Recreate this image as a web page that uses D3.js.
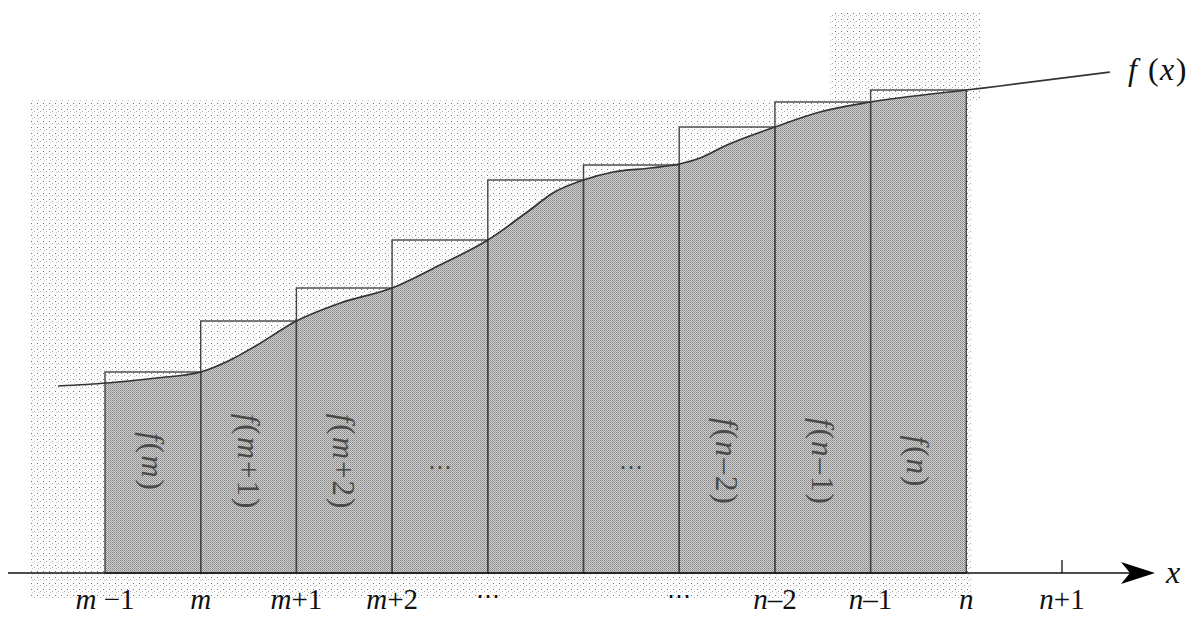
<!DOCTYPE html>
<html>
<head>
<meta charset="utf-8">
<script src="https://cdn.jsdelivr.net/npm/d3@7/dist/d3.min.js"></script>
<style>
  html, body { margin: 0; padding: 0; background: #fff; }
  svg { display: block; }
</style>
</head>
<body>
<svg id="chart" width="1191" height="620"></svg>
<script>
// ---- data (x in step units: 0 = m-1, 1 = m, ..., 9 = n, 10 = n+1) ----
const curveX = [-0.49, 0.02, 0.54, 1, 1.31, 1.59, 2, 2.46, 3, 3.5, 4, 4.44, 4.68, 5, 5.31, 5.7, 6, 6.22, 6.5, 7, 7.47, 8, 9, 9.35, 10.5];
const curveY = [187, 190, 195, 201, 213, 228, 252, 270, 285, 308, 333, 363, 380, 393, 401, 405, 409, 415, 428, 446, 461, 471, 483, 487, 501];
const rectStart = [0, 1, 2, 3, 4, 5, 6, 7, 8];
const rectValues = [201, 252, 285, 333, 393, 408, 446, 471, 483];
const rectLabels = [["f", "(m)"], ["f", "(m+1)"], ["f", "(m+2)"], null, null, null, ["f", "(n–2)"], ["f", "(n–1)"], ["f", "(n)"]];
const dotLabels = [3, 5];
const tickPos = [0, 1, 2, 3, 4, 6, 7, 8, 9, 10];
const tickLabels = ["m −1", "m", "m+1", "m+2", "⋯", "⋯", "n–2", "n–1", "n", "n+1"];

const SERIF = '"Liberation Serif"';
const DOTS = '"DejaVu Serif"';

const svg = d3.select("#chart");
const x = d3.scaleLinear().domain([0, 10]).range([105, 1062]);
const y = d3.scaleLinear().domain([0, 500]).range([573, 73]);

const defs = svg.append("defs");
const pat = defs.append("pattern").attr("id", "stip").attr("patternUnits", "userSpaceOnUse")
  .attr("width", 6).attr("height", 6);
pat.append("rect").attr("width", 6).attr("height", 6).attr("fill", "#fcfcfc");
pat.append("rect").attr("x", 1).attr("y", 1).attr("width", 1).attr("height", 1).attr("fill", "#777");
pat.append("rect").attr("x", 4).attr("y", 3).attr("width", 1).attr("height", 1).attr("fill", "#b0b0b0");
pat.append("rect").attr("x", 2).attr("y", 4).attr("width", 1).attr("height", 1).attr("fill", "#c8c8c8");

const pat2 = defs.append("pattern").attr("id", "dark").attr("patternUnits", "userSpaceOnUse")
  .attr("width", 2).attr("height", 2);
pat2.append("rect").attr("width", 2).attr("height", 2).attr("fill", "#d0d0d0");
pat2.append("rect").attr("width", 1).attr("height", 1).attr("fill", "#868686");
pat2.append("rect").attr("x", 1).attr("y", 1).attr("width", 1).attr("height", 1).attr("fill", "#9c9c9c");

defs.append("clipPath").attr("id", "clipRange").append("rect")
  .attr("x", x(0)).attr("y", 0).attr("width", x(9) - x(0)).attr("height", y(0));

// scanned light background areas
svg.append("rect").attr("x", 30).attr("y", 100).attr("width", 942).attr("height", 498).attr("fill", "url(#stip)");
svg.append("rect").attr("x", 830).attr("y", 13).attr("width", 150).attr("height", 87).attr("fill", "url(#stip)");

const pts = curveX.map((d, i) => [d, curveY[i]]);

// area under curve
const area = d3.area().x(d => x(d[0])).y0(y(0)).y1(d => y(d[1])).curve(d3.curveMonotoneX);
svg.append("path").datum(pts).attr("d", area).attr("fill", "url(#dark)").attr("clip-path", "url(#clipRange)");

// rectangles
svg.selectAll("rect.bar").data(rectStart).join("rect").attr("class", "bar")
  .attr("x", d => x(d)).attr("width", d => x(d + 1) - x(d))
  .attr("y", (d, i) => y(rectValues[i])).attr("height", (d, i) => y(0) - y(rectValues[i]))
  .attr("fill", "none").attr("stroke", "#444").attr("stroke-width", 1.4);

// curve
const line = d3.line().x(d => x(d[0])).y(d => y(d[1])).curve(d3.curveMonotoneX);
svg.append("path").datum(pts).attr("d", line).attr("fill", "none").attr("stroke", "#333").attr("stroke-width", 1.7);

// rotated labels inside bars
rectLabels.forEach((lab, i) => {
  if (!lab) return;
  const cx = (x(rectStart[i]) + x(rectStart[i] + 1)) / 2;
  const t = svg.append("text")
    .attr("transform", `translate(${cx},462) rotate(90)`)
    .attr("text-anchor", "middle").attr("dominant-baseline", "central")
    .style("font-family", SERIF)
    .attr("font-size", 31).attr("letter-spacing", 2).attr("fill", "#4a4a4a");
  t.append("tspan").attr("font-style", "italic").text(lab[0]);
  for (const ch of lab[1]) {
    t.append("tspan").attr("font-style", /[a-z]/.test(ch) ? "italic" : "normal").text(ch);
  }
});
dotLabels.forEach(d => {
  svg.append("text").attr("x", (x(d) + x(d + 1)) / 2).attr("y", 475).attr("text-anchor", "middle")
    .style("font-family", DOTS).attr("font-size", 24).attr("fill", "#4a4a4a").text("⋯");
});

// axis
const axisY = y(0);
svg.append("line").attr("x1", 8).attr("x2", 1140).attr("y1", axisY).attr("y2", axisY)
  .attr("stroke", "#111").attr("stroke-width", 1.5);
svg.append("path")
  .attr("d", `M1155,${axisY} L1121,${axisY - 11} L1130,${axisY} L1121,${axisY + 11} Z`)
  .attr("fill", "#000");
svg.append("line").attr("x1", x(10)).attr("x2", x(10)).attr("y1", axisY - 13).attr("y2", axisY)
  .attr("stroke", "#111").attr("stroke-width", 1.3);

// tick labels
tickPos.forEach((p, i) => {
  const s = tickLabels[i];
  const t = svg.append("text").attr("x", x(p)).attr("y", 609).attr("text-anchor", "middle")
    .style("font-family", SERIF).attr("font-size", 29).attr("fill", "#111");
  if (s === "⋯") { t.style("font-family", DOTS).attr("font-size", 24).attr("y", 604).text(s); return; }
  for (const ch of s) {
    t.append("tspan").attr("font-style", /[a-z]/.test(ch) ? "italic" : "normal").text(ch);
  }
});

// axis and curve labels
svg.append("text").attr("x", 1166).attr("y", 583).style("font-family", SERIF)
  .attr("font-style", "italic").attr("font-size", 32).attr("fill", "#111").text("x");
const fx = svg.append("text").attr("x", 1128).attr("y", 80).style("font-family", SERIF)
  .attr("font-size", 32).attr("letter-spacing", 1.5).attr("fill", "#111");
fx.append("tspan").attr("font-style", "italic").text("f");
fx.append("tspan").text(" (");
fx.append("tspan").attr("font-style", "italic").text("x");
fx.append("tspan").text(")");
</script>
</body>
</html>
